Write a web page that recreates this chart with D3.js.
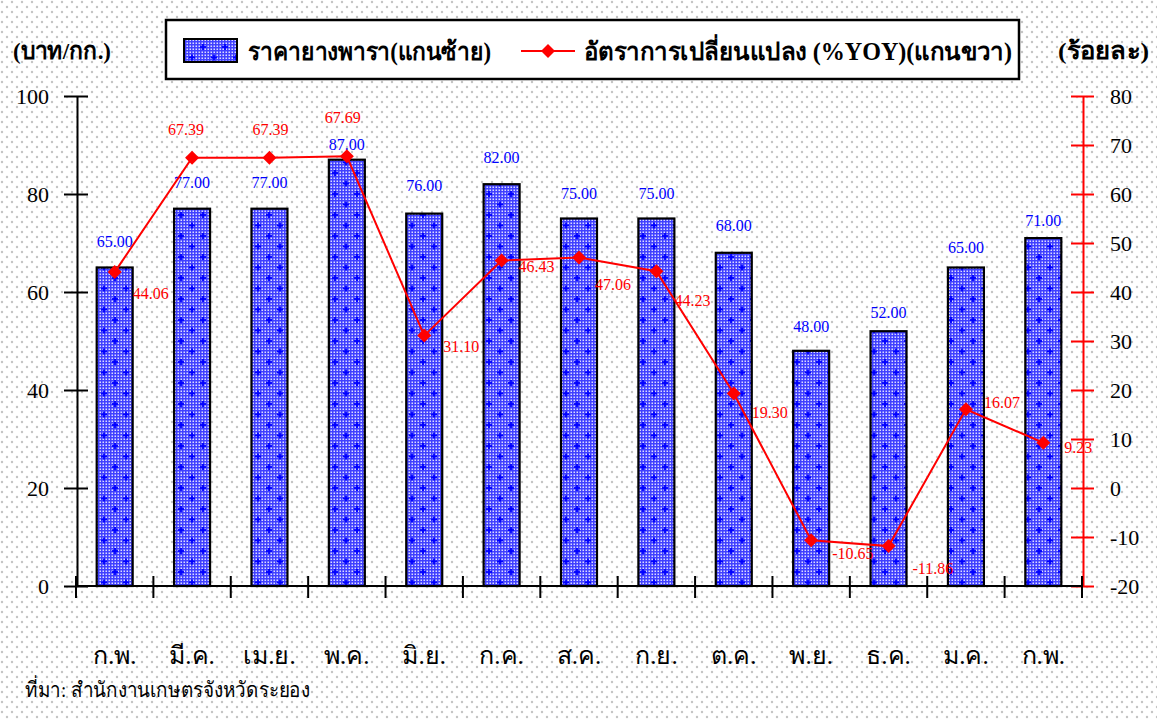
<!DOCTYPE html>
<html><head><meta charset="utf-8">
<script src="https://cdn.jsdelivr.net/npm/d3@7"></script>
<style>
html,body{margin:0;padding:0;background:#fff;}
svg{display:block;}
text{font-family:'Liberation Serif','Times New Roman',serif;}
</style></head>
<body>
<svg id="chart" width="1157" height="720"></svg>
<script>
const categories = ["ก.พ.","มี.ค.","เม.ย.","พ.ค.","มิ.ย.","ก.ค.","ส.ค.","ก.ย.","ต.ค.","พ.ย.","ธ.ค.","ม.ค.","ก.พ."];
const rubberPrice = [65,77,77,87,76,82,75,75,68,48,52,65,71];
const yoyChange = [44.06,67.39,67.39,67.69,31.10,46.43,47.06,44.23,19.30,-10.65,-11.86,16.07,9.23];
const leftTicks = [0,20,40,60,80,100];
const rightTicks = [-20,-10,0,10,20,30,40,50,60,70,80];
const seriesNames = ["ราคายางพารา(แกนซ้าย)","อัตราการเปลี่ยนแปลง (%YOY)(แกนขวา)"];
const leftTitle = "(บาท/กก.)";
const rightTitle = "(ร้อยละ)";
const sourceNote = "ที่มา: สำนักงานเกษตรจังหวัดระยอง";
// label placement (layout only)
const barLabelGap = [26,26,26,15,28,27,25,25,27,24,19,20,18];
const lineLabelShift = [[18,21],[-24,-28],[-17,-28],[-22,-39],[19,11],[17,6],[16,27],[18,29],[18,19],[21,13],[24,22],[18,-7],[21,5]];

const fmt2 = d => d.toFixed(2);
const fmtInt = d => String(d);

const svg = d3.select("#chart");
const defs = svg.append("defs");

// background dots
const bg = defs.append("pattern").attr("id","bgdots").attr("patternUnits","userSpaceOnUse")
  .attr("width",10).attr("height",10);
bg.append("rect").attr("width",10).attr("height",10).attr("fill","#fff");
bg.append("circle").attr("cx",2).attr("cy",2).attr("r",1.2).attr("fill","#c4c4c4");
bg.append("circle").attr("cx",7).attr("cy",7).attr("r",1.2).attr("fill","#c4c4c4");

// bar fill: blue with white dot grid
const bp = defs.append("pattern").attr("id","barfill").attr("patternUnits","userSpaceOnUse")
  .attr("width",3).attr("height",3);
bp.append("rect").attr("width",3).attr("height",3).attr("fill","#4040ff");
bp.append("rect").attr("x",0.5).attr("y",0.5).attr("width",1.5).attr("height",1.5).attr("fill","#dcdcff");
// crosses overlay
const cp = defs.append("pattern").attr("id","barcross").attr("patternUnits","userSpaceOnUse")
  .attr("width",22).attr("height",21);
[[5,5],[16,15.5]].forEach(([cx,cy])=>{
  cp.append("rect").attr("x",cx-3).attr("y",cy-0.9).attr("width",6).attr("height",1.8).attr("fill","#0000ff");
  cp.append("rect").attr("x",cx-0.9).attr("y",cy-3).attr("width",1.8).attr("height",6).attr("fill","#0000ff");
});

svg.append("rect").attr("width",1157).attr("height",720).attr("fill","url(#bgdots)");

const x = d3.scaleBand().domain(d3.range(categories.length)).range([76,1082])
  .paddingInner(0.535).paddingOuter(0.2675);
const yL = d3.scaleLinear().domain([0,100]).range([586,96]);
const yR = d3.scaleLinear().domain([-20,80]).range([586,96]);

// bars
const bars = svg.append("g");
bars.selectAll("rect.f").data(rubberPrice).join("rect").attr("class","f")
  .attr("x",(d,i)=>x(i)).attr("y",d=>yL(d)).attr("width",x.bandwidth()).attr("height",d=>yL(0)-yL(d))
  .attr("fill","url(#barfill)");
bars.selectAll("rect.c").data(rubberPrice).join("rect").attr("class","c")
  .attr("x",(d,i)=>x(i)).attr("y",d=>yL(d)).attr("width",x.bandwidth()).attr("height",d=>yL(0)-yL(d))
  .attr("fill","url(#barcross)").attr("stroke","#000").attr("stroke-width",2.2);

// left axis
const gL = svg.append("g").attr("transform","translate(77,0)");
gL.call(d3.axisLeft(yL).tickValues(leftTicks).tickSize(0).tickPadding(28).tickFormat(fmtInt));
gL.select(".domain").attr("stroke","#000").attr("stroke-width",2);
gL.selectAll(".tick text").attr("font-size",22).attr("fill","#000").attr("font-family","'Liberation Serif',serif");
gL.selectAll(".tick").append("line").attr("x1",-13).attr("x2",11).attr("stroke","#000").attr("stroke-width",2);

// right axis
const gR = svg.append("g").attr("transform","translate(1083,0)");
gR.call(d3.axisRight(yR).tickValues(rightTicks).tickSize(0).tickPadding(27).tickFormat(fmtInt));
gR.select(".domain").attr("stroke","#ff0000").attr("stroke-width",2);
gR.selectAll(".tick text").attr("font-size",22).attr("fill","#000").attr("font-family","'Liberation Serif',serif");
gR.selectAll(".tick").append("line").attr("x1",-12).attr("x2",11).attr("stroke","#ff0000").attr("stroke-width",2);

// x axis
const gX = svg.append("g").attr("transform","translate(0,586)");
gX.append("line").attr("x1",77).attr("x2",1083).attr("stroke","#000").attr("stroke-width",2);
const bounds = d3.range(categories.length+1).map(i => i<categories.length ? x(i)-x.step()*x.paddingInner()/2 : x(i-1)+x.bandwidth()+x.step()*x.paddingInner()/2);
gX.selectAll("line.t").data(bounds).join("line").attr("class","t")
  .attr("x1",d=>d).attr("x2",d=>d).attr("y1",-10).attr("y2",12).attr("stroke","#000").attr("stroke-width",2);
const xAxis = d3.axisBottom(x).tickSize(0).tickPadding(0).tickFormat(i=>categories[i]);
const gXl = svg.append("g").attr("transform","translate(0,655)").call(xAxis);
gXl.select(".domain").remove();
gXl.selectAll(".tick text").attr("font-size",25).attr("fill","#000").attr("dy","0.35em").attr("y",0)
  .attr("font-family","'Liberation Serif',serif");

// bar labels
svg.append("g").selectAll("text").data(rubberPrice).join("text")
  .attr("x",(d,i)=>x(i)+x.bandwidth()/2).attr("y",(d,i)=>yL(d)-barLabelGap[i])
  .attr("dy","0.35em").attr("text-anchor","middle").attr("font-size",16).attr("fill","#0000ff")
  .text(fmt2);

// line
const cx = i => x(i)+x.bandwidth()/2;
const line = d3.line().x((d,i)=>cx(i)).y(d=>yR(d));
svg.append("path").datum(yoyChange).attr("d",line).attr("fill","none").attr("stroke","#ff0000").attr("stroke-width",2);
svg.append("g").selectAll("path").data(yoyChange).join("path")
  .attr("transform",(d,i)=>`translate(${cx(i)},${yR(d)})`)
  .attr("d","M0,-7L7,0L0,7L-7,0Z").attr("fill","#ff0000");
svg.append("g").selectAll("text").data(yoyChange).join("text")
  .attr("x",(d,i)=>cx(i)+lineLabelShift[i][0]).attr("y",(d,i)=>yR(d)+lineLabelShift[i][1])
  .attr("dy","0.35em").attr("font-size",16).attr("fill","#ff0000")
  .text(fmt2);

// legend
const lg = svg.append("g");
lg.append("rect").attr("x",166).attr("y",20).attr("width",853).attr("height",59)
  .attr("fill","#fff").attr("stroke","#000").attr("stroke-width",2.5);
lg.append("rect").attr("x",184).attr("y",39).attr("width",53).attr("height",23).attr("fill","url(#barfill)");
lg.append("rect").attr("x",184).attr("y",39).attr("width",53).attr("height",23).attr("fill","url(#barcross)")
  .attr("stroke","#000").attr("stroke-width",2);
lg.append("text").attr("x",248).attr("y",51).attr("dy","0.35em").attr("font-size",25).attr("font-weight","bold")
  .attr("textLength",243).attr("lengthAdjust","spacingAndGlyphs")
  .text(seriesNames[0]);
lg.append("line").attr("x1",521).attr("x2",575).attr("y1",51).attr("y2",51).attr("stroke","#ff0000").attr("stroke-width",2);
lg.append("path").attr("transform","translate(548,51)").attr("d","M0,-7L7,0L0,7L-7,0Z").attr("fill","#ff0000");
lg.append("text").attr("x",584).attr("y",51).attr("dy","0.35em").attr("font-size",25).attr("font-weight","bold")
  .attr("textLength",428).attr("lengthAdjust","spacingAndGlyphs")
  .text(seriesNames[1]);

// axis titles & note
svg.append("text").attr("x",13).attr("y",51).attr("dy","0.35em").attr("font-size",24).attr("font-weight","bold")
  .attr("textLength",98).attr("lengthAdjust","spacingAndGlyphs").text(leftTitle);
svg.append("text").attr("x",1058).attr("y",51).attr("dy","0.35em").attr("font-size",24).attr("font-weight","bold")
  .attr("textLength",91).attr("lengthAdjust","spacingAndGlyphs").text(rightTitle);
svg.append("text").attr("x",25).attr("y",690).attr("dy","0.35em").attr("font-size",21)
  .attr("textLength",285).attr("lengthAdjust","spacingAndGlyphs").text(sourceNote);
</script>
</body></html>
